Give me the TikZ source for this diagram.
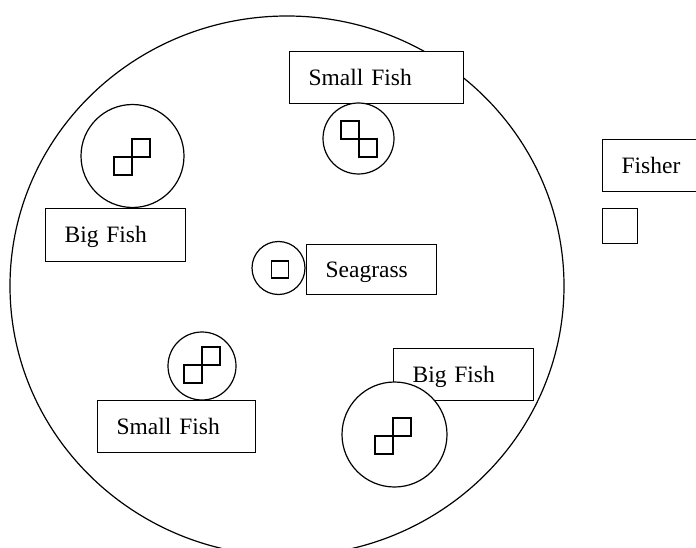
\documentclass[tikz,border=0pt]{standalone}
\usepackage{fontspec}
\setmainfont{Liberation Serif}
\usetikzlibrary{shapes.geometric}
\tikzset{
  ln/.style={line width=1.2pt},
  pond/.style={ln, draw, ellipse, inner sep=0pt},
  ring/.style={ln, draw, circle, fill=white, inner sep=0pt},
  sq/.style={ln, draw, rectangle, inner sep=0pt, minimum size=#1},
  labelbox/.style={ln, draw, fill=white, rectangle, anchor=north west,
    inner xsep=19pt, inner ysep=0pt, align=left,
    text height=15.5pt, text depth=0pt},
}
\begin{document}
\begin{tikzpicture}[x=1pt, y=-1pt, font=\fontsize{23.5}{28}\selectfont]
\useasboundingbox (0,0) rectangle (696,548);
\clip (0,0) rectangle (696,548);
% pond
\node[pond, minimum width=554pt, minimum height=540pt] (pond) at (287,286) {};
% boxes
\node[labelbox, minimum width=140pt, minimum height=53pt, text width=102pt] (bigfishA) at (45,208) {Big Fish};
\node[labelbox, minimum width=174pt, minimum height=52pt, text width=136pt] (smallfishA) at (289,51) {Small Fish};
\node[labelbox, minimum width=130pt, minimum height=50pt, text width=92pt] (seagrass) at (306,244) {Seagrass};
\node[labelbox, minimum width=158pt, minimum height=52pt, text width=120pt] (smallfishB) at (97,400) {Small Fish};
\node[labelbox, minimum width=140pt, minimum height=52pt, text width=102pt] (bigfishB) at (393,348) {Big Fish};
\node[labelbox, minimum width=110pt, minimum height=52pt, text width=72pt] (fisher) at (602,139) {Fisher};
\node[sq=35pt, anchor=north west] (fishersq) at (602,208) {};
% rings
\node[ring, minimum size=103pt] (ringA) at (132.5,156) {};
\node[ring, minimum size=71pt] (ringB) at (358.5,138.5) {};
\node[ring, minimum size=53pt] (ringC) at (278.5,268) {};
\node[ring, minimum size=68pt] (ringD) at (202,366) {};
\node[ring, minimum size=105pt] (ringE) at (394.5,434.5) {};
% icons
\node[sq=18pt] (iA1) at (123,166) {};
\node[sq=18pt] (iA2) at (141,148) {};
\node[sq=18pt] (iB1) at (350,130) {};
\node[sq=18pt] (iB2) at (368,148) {};
\node[sq=17pt] (iC1) at (280,269.5) {};
\node[sq=18pt] (iD1) at (193,374) {};
\node[sq=18pt] (iD2) at (211,356) {};
\node[sq=18pt] (iE1) at (384,445) {};
\node[sq=18pt] (iE2) at (402,427) {};
\end{tikzpicture}
\end{document}
